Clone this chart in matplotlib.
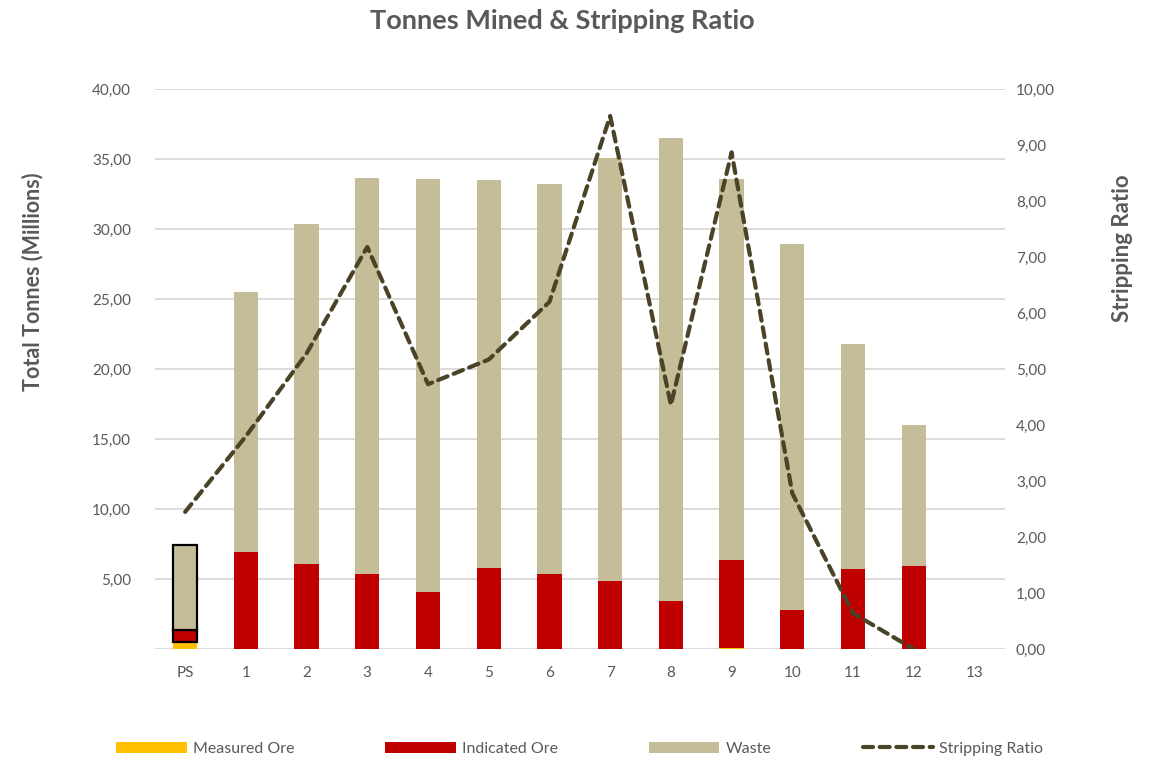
import matplotlib
matplotlib.use("Agg")
import matplotlib.pyplot as plt
from matplotlib.ticker import FuncFormatter, MultipleLocator
from matplotlib.patches import Patch
from matplotlib.lines import Line2D
import numpy as np

categories = ["PS", "1", "2", "3", "4", "5", "6", "7", "8", "9", "10", "11", "12", "13"]
measured_ore = [0.52, 0, 0, 0, 0, 0, 0, 0, 0, 0.10, 0, 0, 0, 0]
indicated_ore = [0.84, 6.93, 6.07, 5.36, 4.07, 5.79, 5.36, 4.86, 3.45, 6.26, 2.79, 5.71, 5.95, 0]
waste = [6.07, 18.57, 24.29, 28.28, 29.50, 27.73, 27.88, 30.21, 33.05, 27.24, 26.14, 16.09, 10.05, 0]
stripping_ratio = [2.45, 3.80, 5.28, 7.18, 4.73, 5.17, 6.20, 9.52, 4.36, 8.87, 2.78, 0.64, 0.00, np.nan]

C_MEAS = "#FFC000"
C_IND = "#C00000"
C_WASTE = "#C4BD97"
C_LINE = "#4A4328"
C_TEXT = "#595959"
C_GRID = "#D9D9D9"

plt.rcParams['font.family'] = ['Lato', 'DejaVu Sans']

fig = plt.figure(figsize=(11.55, 7.61), dpi=100)
ax = fig.add_axes([0.134, 0.147, 0.736, 0.736])
x = np.arange(len(categories))
w = 0.4

edge = ['black'] + ['none'] * (len(categories) - 1)
lw = [1.6] + [0] * (len(categories) - 1)

meas = np.array(measured_ore)
ind = np.array(indicated_ore)
wst = np.array(waste)

ax.bar(x, meas, w, color=C_MEAS, zorder=2)
ax.bar(x, ind, w, bottom=meas, color=C_IND, edgecolor=edge, linewidth=lw, zorder=2)
ax.bar(x, wst, w, bottom=meas + ind, color=C_WASTE, edgecolor=edge, linewidth=lw, zorder=2)

ax.set_xlim(-0.5, len(categories) - 0.5)
ax.set_ylim(0, 40)
ax.yaxis.set_major_locator(MultipleLocator(5))
fmt = FuncFormatter(lambda v, p: f"{v:.2f}".replace('.', ','))
fmt_left = FuncFormatter(lambda v, p: "" if abs(v) < 1e-9 else f"{v:.2f}".replace('.', ','))
ax.yaxis.set_major_formatter(fmt_left)
ax.set_xticks(x)
ax.set_xticklabels(categories)
ax.grid(axis='y', color=C_GRID, linewidth=1.3)
ax.set_axisbelow(True)
for s in ax.spines.values():
    s.set_visible(False)
ax.tick_params(axis='both', length=0, colors=C_TEXT, labelsize=11)
ax.tick_params(axis='y', pad=17)
ax.tick_params(axis='x', pad=12)

ax2 = ax.twinx()
ax2.plot(x, stripping_ratio, color=C_LINE, linewidth=3, linestyle=(0, (2.4, 1.6)),
         dash_capstyle='round', solid_capstyle='round', zorder=3)
ax2.set_ylim(0, 10)
ax2.yaxis.set_major_locator(MultipleLocator(1))
ax2.yaxis.set_major_formatter(fmt)
for s in ax2.spines.values():
    s.set_visible(False)
ax2.tick_params(axis='y', length=0, colors=C_TEXT, labelsize=11, pad=8)

fig.text(0.487, 0.972, "Tonnes Mined & Stripping Ratio", ha='center', va='center',
         fontsize=19.5, fontweight='bold', color=C_TEXT)
fig.text(0.028, 0.63, "Total Tonnes (Millions)", rotation=90, ha='center', va='center',
         fontsize=15.5, fontweight='bold', color=C_TEXT)
fig.text(0.972, 0.674, "Stripping Ratio", rotation=90, ha='center', va='center',
         fontsize=16, fontweight='bold', color=C_TEXT)

handles = [Patch(facecolor=C_MEAS, edgecolor='none'),
           Patch(facecolor=C_IND, edgecolor='none'),
           Patch(facecolor=C_WASTE, edgecolor='none'),
           Line2D([], [], color=C_LINE, linewidth=3, linestyle=(0, (2.4, 1.6)), dash_capstyle='round')]
fig.legend(handles=handles, labels=["Measured Ore", "Indicated Ore", "Waste", "Stripping Ratio"],
           loc='center', bbox_to_anchor=(0.502, 0.016), ncol=4, frameon=False,
           fontsize=11.5, handlelength=4.4, handleheight=0.7, handletextpad=0.4,
           columnspacing=5.7, labelcolor=C_TEXT)

fig.savefig("out.png", dpi=100)
